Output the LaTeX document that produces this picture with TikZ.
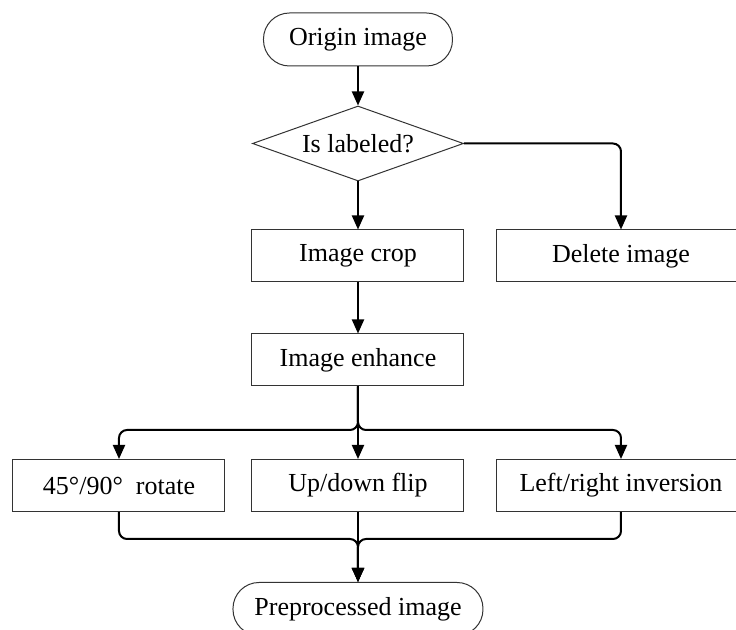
\documentclass[tikz,border=0pt]{standalone}
\usepackage{fontspec}
\setmainfont{Liberation Serif}
\usetikzlibrary{positioning,shapes.geometric,arrows.meta}

\begin{document}
\begin{tikzpicture}[auto, node distance=52pt, font=\fontsize{13pt}{15pt}\selectfont]

    % Frame (right and bottom boxes run past the edge)
    \useasboundingbox (-179pt,19.75pt) rectangle ++(368pt,-315pt);

    % Styles
    \tikzstyle{startstop} = [rectangle, rounded corners=13pt, minimum height=26.5pt, text centered, draw=black!80, line width=0.5pt]
    \tikzstyle{process} = [rectangle, minimum width=106pt, minimum height=26pt, text centered, draw=black!80, line width=0.5pt]
    \tikzstyle{decision} = [diamond, aspect=2.8, inner sep=0pt, minimum width=105.5pt, minimum height=37.5pt, text centered, draw=black!80, line width=0.5pt]
    \tikzstyle{arrow} = [line width=1pt, -{Triangle[length=7pt, width=6pt]}, rounded corners=4pt]

    % Nodes
    \node (origin) [startstop, minimum width=94.5pt] {Origin image};
    \node (labeled) [decision, below of=origin] {Is labeled?};
    \node (crop) [process, below of=labeled, yshift=-4.25pt] {Image crop};
    \node (delete) [process, minimum width=124pt, right of=crop, xshift=79.5pt] {Delete image};
    \node (enhance) [process, below of=crop] {Image enhance};
    \node (flip) [process, below of=enhance, yshift=-10.75pt] {Up/down flip};
    \node (rotate) [process, left of=flip, xshift=-67.5pt] {45°/90°\ \ rotate};
    \node (inversion) [process, minimum width=124pt, right of=flip, xshift=79.5pt] {Left/right inversion};
    \node (result) [startstop, minimum width=125pt, below of=flip, yshift=-9.75pt] {Preprocessed image};
    \coordinate (split) at ([yshift=-35pt]enhance.center);
    \coordinate (merge) at ([yshift=-26.75pt]flip.center);

    % Arrows
    \draw [arrow] (origin) -- (labeled);
    \draw [arrow] (labeled) -- (crop);
    \draw [arrow] (labeled.east) -| (delete.north);
    \draw [arrow] (crop) -- (enhance);
    \draw [arrow] (enhance.south) -- (split) -| (rotate.north);
    \draw [arrow] (enhance.south) -- (split) -| (inversion.north);
    \draw [arrow] (enhance) -- (flip);
    \draw [arrow] (rotate.south) |- (merge) -- (result.north);
    \draw [arrow] (inversion.south) |- (merge) -- (result.north);
    \draw [arrow] (flip) -- (result);
\end{tikzpicture}
\end{document}
